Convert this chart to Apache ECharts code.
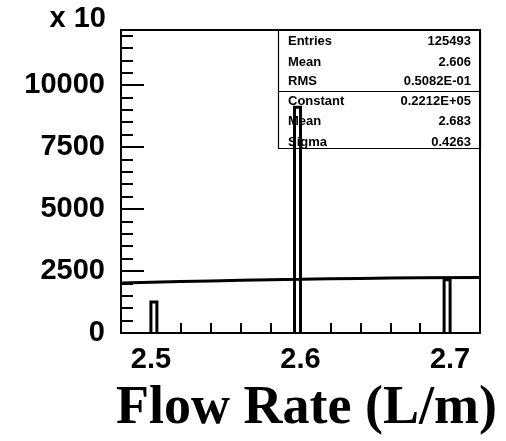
<!DOCTYPE html>
<html><head><meta charset="utf-8">
<script src="https://cdn.jsdelivr.net/npm/echarts@6/dist/echarts.min.js"></script>
<style>html,body{margin:0;padding:0;background:#fff}#c{width:506px;height:441px}</style>
</head><body><div id="c"></div>
<script>
// Histogram bins (x in L/m, counts in units of 10)
const binLow = [2.500, 2.596, 2.696];
const binHigh = [2.504, 2.600, 2.700];
const binCounts = [1250, 9100, 2150];
// Gaussian fit curve
const fitX = [2.48, 2.52, 2.56, 2.60, 2.64, 2.68, 2.72];
const fitY = [2020, 2075, 2125, 2165, 2200, 2225, 2240];
// Axis ticks / labels
const xLabels = [2.5, 2.6, 2.7];
const xTicks = [2.50, 2.52, 2.54, 2.56, 2.58, 2.60, 2.62, 2.64, 2.66, 2.68, 2.70];
const yLabels = [0, 2500, 5000, 7500, 10000];
const yMinorTicks = [500, 1000, 1500, 2000, 3000, 3500, 4000, 4500, 5500, 6000, 6500, 7000, 8000, 8500, 9000, 9500, 10500, 11000, 11500, 12000];
// Stats box
const statsTop = [['Entries', '125493'], ['Mean', '2.606'], ['RMS', '0.5082E-01']];
const statsFit = [['Constant', '0.2212E+05'], ['Mean', '2.683'], ['Sigma', '0.4263']];
const yExponent = 'x 10';
const xTitle = 'Flow Rate (L/m)';

const xMin = 2.48, xMax = 2.72, yMax = 12220;
const SANS = '"Liberation Sans", Arial, sans-serif';
const SERIF = '"Liberation Serif", "Times New Roman", serif';

const chart = echarts.init(document.getElementById('c'), null, {renderer: 'canvas'});

const graphics = [];
graphics.push({type: 'rect', shape: {x: 278.5, y: 30.5, width: 202, height: 118}, style: {fill: 'none', stroke: '#000', lineWidth: 1.2}, z: 1});
graphics.push({type: 'line', shape: {x1: 278.5, y1: 91.5, x2: 480.5, y2: 91.5}, style: {stroke: '#000', lineWidth: 1.2}, z: 1});
const rows = statsTop.concat(statsFit);
const rowY = [41.7, 62, 81.7, 101.3, 121.7, 142];
rows.forEach((r, i) => {
  graphics.push({type: 'text', z: 1, style: {x: 288, y: rowY[i], text: r[0], font: 'bold 13px ' + SANS, fill: '#000', textAlign: 'left', textVerticalAlign: 'middle'}});
  graphics.push({type: 'text', z: 1, style: {x: 471, y: rowY[i], text: r[1], font: 'bold 13px ' + SANS, fill: '#000', textAlign: 'right', textVerticalAlign: 'middle'}});
});
graphics.push({type: 'text', style: {x: 106, y: 19, text: yExponent, font: 'bold 29px ' + SANS, fill: '#000', textAlign: 'right', textVerticalAlign: 'middle'}});
graphics.push({type: 'text', style: {x: 497, y: 409, text: xTitle, font: 'bold 54px ' + SERIF, fill: '#000', textAlign: 'right', textVerticalAlign: 'middle'}});

const option = {
  backgroundColor: '#fff',
  animation: false,
  grid: {left: 121, top: 30, width: 359, height: 303, show: true, borderColor: '#000', borderWidth: 2, backgroundColor: 'transparent'},
  xAxis: {
    type: 'value', min: xMin, max: xMax,
    axisLine: {show: true, lineStyle: {color: '#000', width: 2}},
    axisTick: {show: true, inside: true, length: 10, customValues: xTicks, lineStyle: {color: '#000', width: 2}},
    axisLabel: {show: true, customValues: xLabels, formatter: v => v.toFixed(1), margin: 12, color: '#000', fontFamily: SANS, fontWeight: 'bold', fontSize: 29},
    splitLine: {show: false}
  },
  yAxis: [{
    type: 'value', min: 0, max: yMax,
    axisLine: {show: true, lineStyle: {color: '#000', width: 2}},
    axisTick: {show: true, inside: true, length: 23, customValues: yLabels, lineStyle: {color: '#000', width: 2}},
    axisLabel: {show: true, customValues: yLabels, formatter: v => String(v), margin: 16, color: '#000', fontFamily: SANS, fontWeight: 'bold', fontSize: 29},
    splitLine: {show: false}
  }, {
    type: 'value', min: 0, max: yMax, position: 'left',
    axisLine: {show: false},
    axisTick: {show: true, inside: true, length: 12, customValues: yMinorTicks, lineStyle: {color: '#000', width: 2}},
    axisLabel: {show: false},
    splitLine: {show: false}
  }],
  series: [{
    type: 'custom',
    data: binLow.map((lo, i) => [lo, binHigh[i], binCounts[i]]),
    encode: {x: [0, 1], y: 2},
    renderItem: function (params, api) {
      const lo = api.value(0), hi = api.value(1), h = api.value(2);
      const pts = [api.coord([lo, 0]), api.coord([lo, h]), api.coord([hi, h]), api.coord([hi, 0])];
      return {type: 'polyline', shape: {points: pts}, style: {stroke: '#000', lineWidth: 3, fill: null}};
    },
    z: 3
  }, {
    type: 'line',
    data: fitX.map((x, i) => [x, fitY[i]]),
    smooth: true, showSymbol: false,
    lineStyle: {color: '#000', width: 3},
    z: 4
  }],
  graphic: graphics
};
chart.setOption(option);
</script></body></html>
